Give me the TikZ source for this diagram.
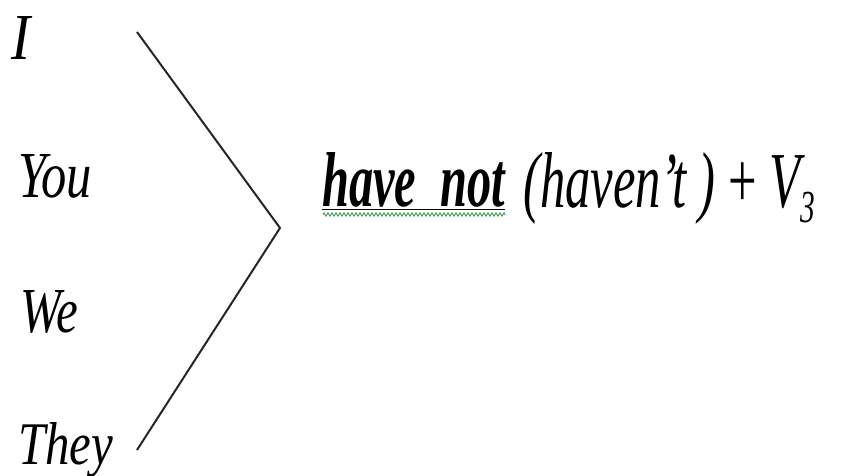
\documentclass[tikz,border=0pt]{standalone}
\usepackage{fontspec}
\usepackage{graphicx}
\setmainfont{Liberation Serif}
\usetikzlibrary{decorations.pathmorphing}
\definecolor{squiggle}{RGB}{70,160,90}
\tikzset{
  pronoun/.style={anchor=base west, inner sep=0pt, font=\fontsize{66}{66}\selectfont\itshape},
  phrase/.style={anchor=base west, inner sep=0pt, font=\fontsize{76}{76}\selectfont\itshape},
  bracketline/.style={line width=2pt, draw=black!85},
}
\begin{document}
\begin{tikzpicture}[x=1pt,y=-1pt]
\useasboundingbox (0,0) rectangle (846,476);
\node[pronoun] (i) at (11,60) {\resizebox{19pt}{43pt}{I}};
\node[pronoun] (you) at (18,197) {\resizebox{74pt}{43pt}{You}};
\node[pronoun] (we) at (20,332) {\resizebox{58pt}{42pt}{We}};
\node[pronoun] (they) at (18,464) {\resizebox{95pt}{42pt}{They}};
\coordinate (top) at (137,32);
\coordinate (apex) at (280,228);
\coordinate (bot) at (137,450);
\draw[bracketline] (top) -- (apex) -- (bot);
\node[phrase] (hn) at (322,207) {\resizebox{183pt}{54pt}{\bfseries have\ \ not}};
\node[phrase] (rest) at (523,207) {\resizebox{292pt}{55pt}{(haven’t )\ \upshape+\ \itshape V\raisebox{-0.2em}{\fontsize{44}{44}\selectfont 3}}};
\draw[line width=1.6pt] ([yshift=-2.5pt]hn.base west) -- ([yshift=-2.5pt]hn.base east);
\draw[squiggle, line width=1pt, decorate, decoration={zigzag, amplitude=1.6pt, segment length=4pt}] ([xshift=1pt,yshift=-7.5pt]hn.base west) -- ([yshift=-7.5pt]hn.base east);
\end{tikzpicture}
\end{document}
